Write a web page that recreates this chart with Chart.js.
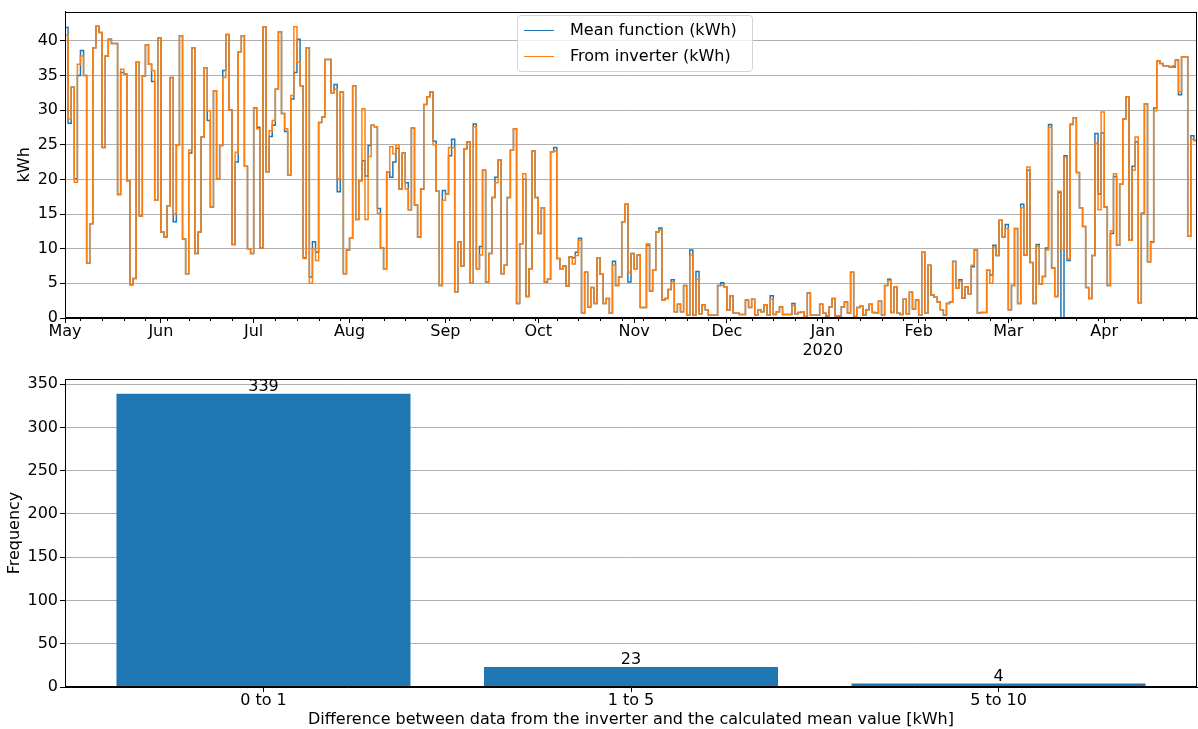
<!DOCTYPE html>
<html>
<head>
<meta charset="utf-8">
<script src="https://cdn.jsdelivr.net/npm/chart.js@4.4.1/dist/chart.umd.min.js"></script>
<style>
body { margin: 0; background: #fff; }
#wrap { position: relative; width: 1198px; height: 729px; font-family: "DejaVu Sans", sans-serif; }
#energy_chart { position: absolute; left: 0; top: 0; }
#diff_chart { position: absolute; left: 0; top: 365px; }
#legend { position: absolute; left: 517px; top: 15px; width: 234px; height: 55px; border: 1px solid #d5d5d5; border-radius: 4px; background: rgba(255,255,255,0.8); font-size: 16px; color: #000; }
.item { position: absolute; left: 6px; height: 20px; line-height: 20px; white-space: nowrap; }
.item .line { display: inline-block; width: 30px; height: 0; border-top: 1.5px solid; vertical-align: middle; margin-right: 16px; }
</style>
</head>
<body>
<div id="wrap">
  <canvas id="energy_chart" width="1198" height="365"></canvas>
  <canvas id="diff_chart" width="1198" height="364"></canvas>
  <div id="legend">
    <div class="item" style="top:4px"><span class="line" style="border-color:#1f77b4"></span>Mean function (kWh)</div>
    <div class="item" style="top:30px"><span class="line" style="border-color:#ff7f0e"></span>From inverter (kWh)</div>
  </div>
</div>
<script>
// x axis: days since 2019-05-01
var monthLabels = ['May', 'Jun', 'Jul', 'Aug', 'Sep', 'Oct', 'Nov', 'Dec', ['Jan', '2020'], 'Feb', 'Mar', 'Apr'];
var monthStartDay = [0, 31, 61, 92, 123, 153, 184, 214, 245, 276, 305, 336];

// daily energy, one value per day
var meanKwh = [
  7.6, 41.9, 28.1, 33.3, 20.1, 35.0, 38.6, 35.0, 7.9, 13.6, 39.0, 42.1, 41.2, 24.6, 37.8, 40.2, 39.6, 39.6, 17.8, 35.4, 35.2, 19.8, 4.8, 5.7, 36.9, 14.7, 34.9, 39.4, 36.6, 34.1, 17.0, 40.4,
  12.4, 11.7, 16.2, 34.7, 13.9, 25.0, 40.7, 11.4, 6.4, 23.8, 39.0, 9.3, 12.4, 26.1, 36.1, 28.5, 16.0, 32.8, 20.1, 24.9, 35.7, 40.9, 30.0, 10.6, 22.5, 38.4, 40.7, 21.9, 10.0, 9.3,
  30.3, 27.5, 10.1, 42.0, 21.1, 26.2, 27.8, 33.0, 41.3, 29.5, 26.9, 20.6, 31.6, 35.4, 40.2, 33.5, 8.7, 39.0, 5.9, 11.0, 9.5, 28.2, 29.0, 37.3, 37.3, 32.5, 33.7, 18.2, 32.6, 6.4, 9.8, 11.5,
  33.5, 14.2, 19.8, 22.7, 20.5, 24.9, 27.8, 27.6, 15.8, 10.1, 7.1, 21.1, 20.3, 22.5, 24.5, 18.6, 23.8, 19.5, 15.6, 27.4, 16.3, 11.7, 18.6, 30.8, 31.9, 32.6, 25.5, 18.3, 4.7, 18.4, 17.9,
  23.4, 25.8, 3.8, 11.0, 7.5, 24.4, 25.4, 5.0, 28.0, 7.1, 10.3, 21.3, 5.2, 9.3, 17.4, 20.3, 22.8, 6.4, 7.6, 17.4, 24.2, 27.3, 2.1, 10.7, 20.0, 3.1, 7.1, 24.1, 17.4, 12.2,
  15.9, 5.2, 5.6, 24.0, 24.6, 8.6, 7.1, 7.5, 4.6, 8.8, 8.7, 9.5, 11.5, 0.7, 6.6, 1.6, 4.4, 2.1, 8.7, 6.3, 2.1, 2.8, 0.7, 8.2, 4.7, 5.9, 13.9, 16.4, 5.2, 9.3, 7.1,
  9.1, 1.5, 1.5, 10.5, 3.9, 6.9, 12.4, 13.0, 2.6, 2.8, 4.1, 5.5, 0.9, 2.0, 0.9, 4.7, 0.4, 9.8, 0.4, 6.7, 0.6, 1.9, 1.2, 0.4, 0.4, 0.4, 4.7, 5.1, 4.5, 1.1,
  3.2, 0.7, 0.7, 0.5, 0.5, 2.6, 1.5, 2.7, 0.4, 1.2, 0.9, 1.9, 0.4, 3.2, 0.5, 0.9, 1.6, 0.5, 0.5, 0.5, 2.1, 0.6, 0.8, 0.9, 0.2, 3.6, 0.4, 0.4, 0.4, 2.0, 0.7,
  0.3, 1.6, 2.8, 0.3, 0.3, 1.6, 2.3, 0.7, 6.6, 0.2, 1.5, 1.7, 0.4, 1.2, 2.0, 0.8, 0.7, 2.4, 0.4, 4.7, 5.6, 0.8, 4.5, 0.7, 0.5, 2.7, 0.6, 3.7, 1.3, 2.6, 0.4,
  9.5, 0.7, 7.6, 3.3, 3.0, 2.3, 1.2, 0.4, 2.1, 2.3, 8.2, 4.3, 5.5, 2.9, 4.5, 3.5, 7.4, 9.8, 0.7, 0.8, 0.8, 6.9, 6.2, 10.5, 9.0, 14.1, 11.7, 13.5, 1.2, 4.7,
  12.9, 2.1, 16.4, 9.1, 21.3, 8.0, 2.1, 10.6, 4.9, 6.0, 10.1, 27.9, 7.2, 3.1, 18.1, 0.0, 23.4, 8.3, 27.9, 28.9, 21.0, 15.9, 13.2, 4.4, 2.8, 9.0, 26.6, 17.9, 26.7, 16.0, 4.7,
  12.2, 20.4, 10.5, 19.3, 28.7, 31.9, 11.2, 21.9, 25.4, 2.2, 15.1, 30.9, 8.1, 11.0, 30.3, 37.1, 36.7, 36.4, 36.4, 36.2, 36.2, 37.2, 32.2, 37.7, 37.7, 11.8, 26.3, 25.6
];
var inverterKwh = [
  7.6, 40.8, 28.7, 33.3, 19.6, 36.6, 37.8, 35.0, 7.9, 13.6, 39.0, 42.1, 41.2, 24.6, 37.8, 40.2, 39.6, 39.6, 17.8, 35.9, 35.2, 19.8, 4.8, 5.7, 36.9, 14.7, 34.9, 39.4, 36.6, 35.7, 17.0, 40.4,
  12.4, 11.7, 16.2, 34.7, 15.0, 25.0, 40.7, 11.4, 6.4, 24.2, 39.0, 9.3, 12.4, 26.1, 36.1, 29.9, 16.0, 32.8, 20.1, 24.9, 34.7, 40.9, 30.0, 10.6, 23.9, 38.4, 40.7, 21.9, 10.0, 9.3,
  30.3, 27.3, 10.1, 42.0, 21.1, 27.0, 28.5, 33.0, 41.3, 29.5, 27.3, 20.6, 32.1, 42.0, 36.9, 33.5, 8.6, 39.0, 5.0, 10.0, 8.3, 28.2, 29.0, 37.3, 37.3, 32.5, 33.0, 20.1, 32.6, 6.4, 9.8, 11.5,
  33.5, 14.2, 19.8, 30.2, 14.2, 23.3, 27.8, 27.6, 15.1, 10.1, 7.1, 21.1, 24.7, 23.7, 25.0, 18.6, 23.8, 18.6, 15.6, 27.4, 16.3, 11.7, 18.6, 30.8, 31.9, 32.6, 25.0, 18.3, 4.7, 17.0, 17.9,
  24.6, 24.6, 3.8, 11.0, 7.5, 24.4, 25.4, 5.0, 27.6, 7.1, 9.1, 21.3, 5.2, 9.3, 17.4, 19.5, 22.8, 6.4, 7.6, 17.4, 24.2, 27.3, 2.1, 10.7, 20.8, 3.1, 7.1, 24.1, 17.4, 12.2,
  15.9, 5.2, 5.6, 24.0, 24.1, 8.6, 7.1, 7.5, 4.6, 8.8, 7.8, 9.0, 11.2, 0.7, 6.6, 1.6, 4.4, 2.1, 8.7, 6.3, 2.1, 2.8, 0.7, 7.6, 4.7, 5.9, 13.9, 16.4, 6.6, 9.3, 7.1,
  9.1, 1.5, 1.5, 10.7, 3.9, 6.9, 12.4, 12.7, 2.6, 2.8, 4.1, 5.2, 0.9, 2.0, 0.9, 4.7, 0.4, 9.1, 0.4, 5.6, 0.6, 1.9, 1.2, 0.4, 0.4, 0.4, 4.7, 4.7, 4.5, 1.1,
  3.2, 0.7, 0.7, 0.5, 0.5, 2.6, 1.5, 2.7, 0.4, 1.2, 0.9, 1.9, 0.4, 2.7, 0.5, 0.9, 1.6, 0.5, 0.5, 0.5, 1.8, 0.6, 0.8, 0.9, 0.2, 3.6, 0.4, 0.4, 0.4, 2.0, 0.7,
  0.3, 1.6, 2.8, 0.3, 0.3, 1.6, 2.3, 0.7, 6.6, 0.2, 1.5, 1.7, 0.4, 1.2, 2.0, 0.8, 0.7, 2.4, 0.4, 4.7, 5.4, 0.8, 4.5, 0.7, 0.5, 2.7, 0.6, 3.7, 1.3, 2.6, 0.4,
  9.5, 0.7, 7.6, 3.3, 3.0, 2.3, 1.2, 0.4, 2.1, 2.3, 8.1, 4.3, 5.3, 2.9, 4.5, 3.5, 7.6, 9.8, 0.7, 0.8, 0.8, 6.9, 5.0, 10.2, 9.0, 14.1, 11.7, 12.9, 1.2, 4.7,
  12.9, 2.1, 15.9, 9.1, 21.8, 8.0, 2.1, 10.3, 4.9, 6.0, 9.8, 27.5, 7.2, 3.1, 18.3, 10.0, 23.2, 8.5, 28.0, 28.9, 21.0, 15.9, 13.2, 4.4, 2.8, 9.0, 25.2, 15.6, 29.7, 16.0, 4.7,
  12.6, 20.8, 10.5, 19.3, 28.7, 31.9, 11.2, 21.3, 26.1, 2.2, 15.0, 30.9, 8.1, 10.9, 29.9, 37.1, 36.7, 36.4, 36.4, 36.2, 36.4, 37.2, 32.6, 37.7, 37.7, 11.8, 25.8, 25.6
];

// histogram of differences
var binLabels = ['0 to 1', '1 to 5', '5 to 10'];
var binCounts = [339, 23, 4];

Chart.defaults.font.family = "'DejaVu Sans', sans-serif";
Chart.defaults.font.size = 16;
Chart.defaults.color = '#000';

// black box round the plot area, like the matplotlib spines
var framePlugin = {
    id: 'frame',
    afterDraw: function(chart) {
        var a = chart.chartArea;
        var c = chart.ctx;
        c.save();
        c.strokeStyle = '#000';
        c.lineWidth = 1;
        c.strokeRect(Math.round(a.left) + 0.5, Math.round(a.top) + 0.5, Math.round(a.right - a.left) - 1, Math.round(a.bottom - a.top) - 1);
        c.restore();
    }
};

// small weekly ticks under the date axis
var weekTicks = {
    id: 'weekTicks',
    afterDraw: function(chart) {
        var x = chart.scales.x;
        var c = chart.ctx;
        var bottom = chart.chartArea.bottom;
        c.save();
        c.strokeStyle = '#000';
        c.lineWidth = 1;
        for (var d = 5; d < 366; d += 7) {
            if (monthStartDay.indexOf(d) >= 0) continue;
            var px = Math.round(x.getPixelForValue(d)) + 0.5;
            c.beginPath();
            c.moveTo(px, bottom);
            c.lineTo(px, bottom + 3);
            c.stroke();
        }
        c.restore();
    }
};

var barLabels = {
    id: 'barLabels',
    afterDatasetsDraw: function(chart) {
        var c = chart.ctx;
        var meta = chart.getDatasetMeta(0);
        c.save();
        c.fillStyle = '#000';
        c.font = "16px 'DejaVu Sans', sans-serif";
        c.textAlign = 'center';
        c.textBaseline = 'alphabetic';
        meta.data.forEach(function(bar, i) {
            c.fillText(String(binCounts[i]), bar.x, bar.y - 3);
        });
        c.restore();
    }
};

var ctx_energy = document.getElementById('energy_chart');
var ctx_diff = document.getElementById('diff_chart');

var chart_energy = new Chart(ctx_energy, {
    type: 'line',
    data: {
        datasets: [{
            label: 'From inverter (kWh)',
            data: inverterKwh.map(function(v, i) { return {x: i, y: v}; }),
            borderColor: '#ff7f0e',
            borderWidth: 1.5,
            pointRadius: 0,
            stepped: 'after'
        }, {
            label: 'Mean function (kWh)',
            data: meanKwh.map(function(v, i) { return {x: i, y: v}; }),
            borderColor: '#1f77b4',
            borderWidth: 1.5,
            pointRadius: 0,
            stepped: 'after'
        }]
    },
    plugins: [framePlugin, weekTicks],
    options: {
        responsive: false,
        animation: false,
        layout: { padding: { top: 10, right: 1, left: 0, bottom: 0 } },
        plugins: {
            legend: { display: false },
            tooltip: { enabled: false }
        },
        scales: {
            x: {
                type: 'linear',
                min: 0,
                max: 366,
                afterBuildTicks: function(scale) {
                    scale.ticks = monthStartDay.map(function(d) { return {value: d}; });
                },
                afterFit: function(scale) { scale.height = 47; },
                ticks: {
                    autoSkip: false,
                    maxRotation: 0,
                    padding: -1,
                    callback: function(value, index) { return monthLabels[index]; }
                },
                grid: { drawOnChartArea: false, tickLength: 5, tickColor: '#000' },
                border: { color: '#000' }
            },
            y: {
                min: 0,
                max: 44.2,
                afterFit: function(scale) { scale.width = 65; },
                ticks: { stepSize: 5, includeBounds: false, padding: 2 },
                grid: { color: '#b0b0b0', tickLength: 5, tickColor: '#000' },
                border: { color: '#000' },
                title: { display: true, text: 'kWh', padding: { top: 15, bottom: 0 } }
            }
        }
    }
});

var chart_diff = new Chart(ctx_diff, {
    type: 'bar',
    data: {
        datasets: [{
            label: 'Frequency',
            data: binCounts.map(function(v, i) { return {x: i, y: v}; }),
            backgroundColor: '#1f77b4',
            barPercentage: 0.8,
            categoryPercentage: 1.0
        }]
    },
    plugins: [framePlugin, barLabels],
    options: {
        responsive: false,
        animation: false,
        layout: { padding: { top: 14, right: 1, left: 0, bottom: 0 } },
        plugins: {
            legend: { display: false },
            tooltip: { enabled: false }
        },
        scales: {
            x: {
                type: 'linear',
                min: -0.54,
                max: 2.54,
                offset: false,
                afterBuildTicks: function(scale) {
                    scale.ticks = binLabels.map(function(l, i) { return {value: i}; });
                },
                afterFit: function(scale) { scale.height = 42; },
                ticks: {
                    autoSkip: false,
                    maxRotation: 0,
                    padding: -1,
                    callback: function(value, index) { return binLabels[index]; }
                },
                grid: { offset: false, drawOnChartArea: false, tickLength: 5, tickColor: '#000' },
                border: { color: '#000' },
                title: {
                    display: true,
                    text: 'Difference between data from the inverter and the calculated mean value [kWh]',
                    padding: { top: 0, bottom: 0 }
                }
            },
            y: {
                min: 0,
                max: 356,
                afterFit: function(scale) { scale.width = 65; },
                ticks: { stepSize: 50, includeBounds: false, padding: 2 },
                grid: { color: '#b0b0b0', tickLength: 5, tickColor: '#000' },
                border: { color: '#000' },
                title: { display: true, text: 'Frequency', padding: { top: 5, bottom: 0 } }
            }
        }
    }
});
</script>
</body>
</html>
